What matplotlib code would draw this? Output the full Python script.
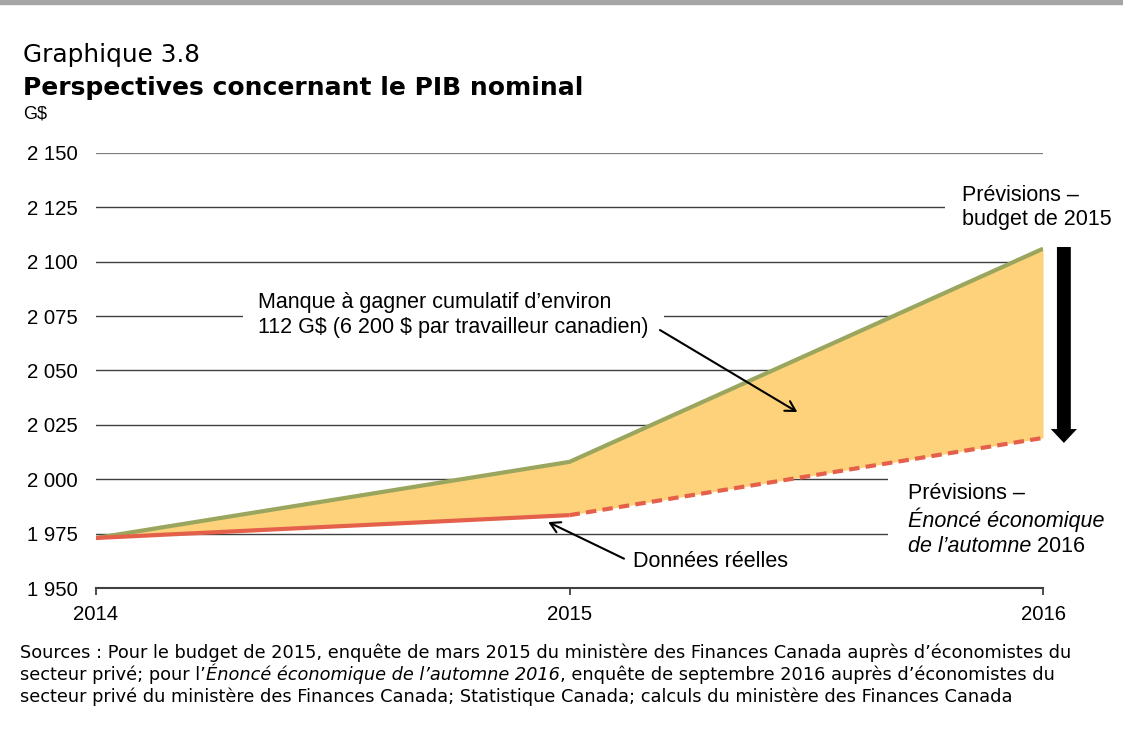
import matplotlib
matplotlib.use('Agg')
import matplotlib.pyplot as plt
from matplotlib.patches import Rectangle

# data (G$)
years = [2014, 2015, 2016]
budget_2015 = [1973, 2008, 2106]
actual_years = [2014, 2015]
actual = [1973, 1983.5]
fes_years = [2015, 2016]
fes_2016 = [1983.5, 2019]
lower_edge = actual + fes_2016[1:]

y_ticks = [1950, 1975, 2000, 2025, 2050, 2075, 2100, 2125, 2150]
y_labels = ['1 950', '1 975', '2 000', '2 025', '2 050', '2 075', '2 100', '2 125', '2 150']
x_labels = ['2014', '2015', '2016']

GREEN = '#9aa65e'
RED = '#e5604a'
FILL = '#fdd27b'
ARIAL = 'Liberation Sans'
GOTHIC = 'DejaVu Sans'
FS = 15.5

fig = plt.figure(figsize=(11.23, 7.33), dpi=100)
fig.patches.append(Rectangle((0, 0.9945), 1, 0.0055, transform=fig.transFigure,
                             color='#a6a6a6', zorder=0))

ax = fig.add_axes([0.0855, 0.1978, 0.8433, 0.5935])
ax.set_xlim(2014, 2016)
ax.set_ylim(1950, 2150)

for y in y_ticks[1:-1]:
    ax.axhline(y, color='#404040', lw=1.0, zorder=1)
ax.axhline(y_ticks[-1], color='#7a7a7a', lw=1.6, zorder=1)

ax.fill_between(years, budget_2015, lower_edge, color=FILL, lw=0, zorder=2)
ax.plot(years, budget_2015, color=GREEN, lw=3, zorder=3, solid_capstyle='butt')
ax.plot(actual_years, actual, color=RED, lw=3, zorder=3, solid_capstyle='butt')
ax.plot(fes_years, fes_2016, color=RED, lw=3, ls=(0, (2.5, 1.5)), zorder=3)

for s in ['top', 'right', 'left']:
    ax.spines[s].set_visible(False)
ax.spines['bottom'].set_color('#404040')
ax.spines['bottom'].set_linewidth(1.5)
ax.spines['bottom'].set_zorder(4)

ax.set_yticks(y_ticks)
ax.set_yticklabels(y_labels)
ax.set_xticks(years)
ax.set_xticklabels(x_labels)
ax.tick_params(axis='y', length=0, pad=13, labelsize=14.7)
ax.tick_params(axis='x', length=5, width=1.3, color='#404040', pad=7, labelsize=14.7)
for lab in ax.get_xticklabels() + ax.get_yticklabels():
    lab.set_family(ARIAL)

# annotations
ax.text(2015.829, 2125, 'Prévisions –\nbudget de 2015', family=ARIAL, fontsize=FS,
        ha='left', va='center', linespacing=1.2, zorder=5, clip_on=False,
        bbox=dict(fc='white', ec='none', pad=12))

ax.text(2014.342, 2075.5, 'Manque à gagner cumulatif d’environ\n112 G\\$ (6 200 \\$ par travailleur canadien)',
        family=ARIAL, fontsize=FS, ha='left', va='center', linespacing=1.2, zorder=5,
        bbox=dict(fc='white', ec='none', pad=11))
ax.annotate('', xy=(2015.481, 2030.9), xytext=(2015.191, 2068.6),
            arrowprops=dict(arrowstyle='->,head_length=0.7,head_width=0.4', color='black', lw=1.5,
                            shrinkA=0, shrinkB=0),
            zorder=6)

ax.text(2015.134, 1962, 'Données réelles', family=ARIAL, fontsize=FS,
        ha='left', va='center', zorder=5, bbox=dict(fc='white', ec='none', pad=4))
ax.annotate('', xy=(2014.955, 1980.3), xytext=(2015.115, 1963.5),
            arrowprops=dict(arrowstyle='->,head_length=0.7,head_width=0.4', color='black', lw=1.5,
                            shrinkA=0, shrinkB=0),
            zorder=6)

# white backing behind the lower-right label (hides the gridlines there)
ax.add_patch(Rectangle((2015.673, 1961), 0.5, 40.5, fc='white', ec='none', zorder=1.5, clip_on=False))
ax.text(2015.715, 1993.5, 'Prévisions –', family=ARIAL, fontsize=FS, ha='left', va='center', zorder=5)
ax.text(2015.715, 1981.3, 'Énoncé économique', family=ARIAL, style='italic', fontsize=FS,
        ha='left', va='center', zorder=5)
t3 = ax.text(2015.715, 1969.3, 'de l’automne', family=ARIAL, style='italic', fontsize=FS,
             ha='left', va='center', zorder=5)
ax.annotate(' 2016', xy=(1, 0), xycoords=t3, family=ARIAL, fontsize=FS, ha='left', va='bottom', zorder=5)

# big downward arrow between the two forecasts
ax.annotate('', xy=(2016.044, 2016.7), xytext=(2016.044, 2108.2), annotation_clip=False,
            arrowprops=dict(arrowstyle='simple,head_length=0.5,head_width=0.94,tail_width=0.5',
                            mutation_scale=20, fc='black', ec='black', lw=0,
                            shrinkA=0, shrinkB=0))

# titles
fig.text(0.0205, 0.9154, 'Graphique 3.8', family=GOTHIC, fontsize=17.8, ha='left', va='baseline')
fig.text(0.0205, 0.8704, 'Perspectives concernant le PIB nominal', family=GOTHIC, fontsize=18,
         fontweight='bold', ha='left', va='baseline')
fig.text(0.0205, 0.8390, 'G$', family=ARIAL, fontsize=13, ha='left', va='baseline')


def mixed_line(x, y, parts, size=12.8):
    # chain text pieces so normal and italic runs sit on one line
    last = None
    for txt, italic in parts:
        st = 'italic' if italic else 'normal'
        if last is None:
            last = fig.text(x, y, txt, family=GOTHIC, style=st, fontsize=size,
                            ha='left', va='baseline')
        else:
            last = fig.text(0, 0, txt, family=GOTHIC, style=st, fontsize=size,
                            ha='left', va='bottom')
            last.remove()
            last = ax.annotate(txt, xy=(1, 0), xycoords=prev, family=GOTHIC, style=st,
                               fontsize=size, ha='left', va='bottom', annotation_clip=False)
        prev = last


mixed_line(0.0178, 0.1023, [('Sources : Pour le budget de 2015, enquête de mars 2015 du ministère des Finances Canada auprès d’économistes du', False)])
mixed_line(0.0178, 0.0723, [('secteur privé; pour l’', False), ('Énoncé économique de l’automne 2016', True),
                            (', enquête de septembre 2016 auprès d’économistes du', False)])
mixed_line(0.0178, 0.0423, [('secteur privé du ministère des Finances Canada; Statistique Canada; calculs du ministère des Finances Canada', False)])

fig.savefig('out.png', dpi=100, facecolor='white')
